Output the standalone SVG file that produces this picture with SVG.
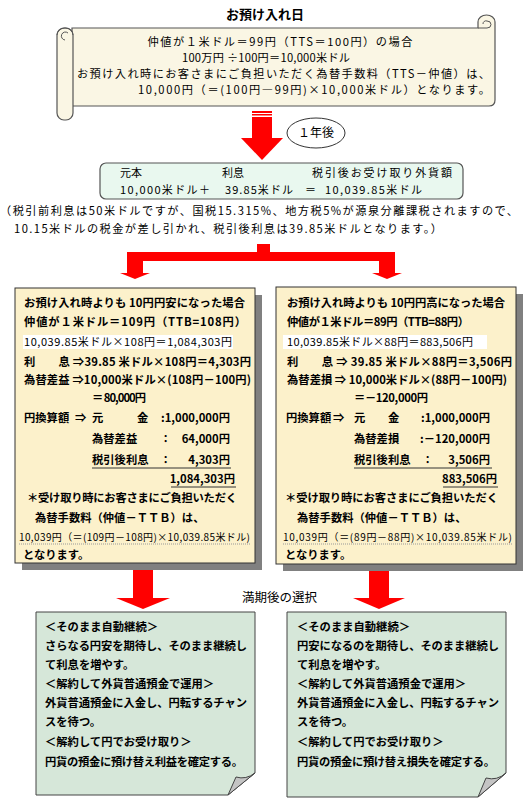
<svg xmlns="http://www.w3.org/2000/svg" width="530" height="803" viewBox="0 0 530 803">
<style>
text{font-family:"Noto Sans CJK JP","Noto Sans",sans-serif;fill:#000}
.r{font-size:12px}
.s{font-size:11.2px}
.b{font-size:11.3px;font-weight:bold}
.n{font-size:11px}
.sm{font-size:10px}
.title{font-size:13px;font-weight:bold}
.red{fill:#FF0000}
.ul{stroke:#333;stroke-width:1}
</style>
<rect width="530" height="803" fill="#fff"/>
<text class="title" x="265" y="19" text-anchor="middle">お預け入れ日</text>

<g id="scroll">
<path d="M72,28 H478 V22 A8.5,7 0 0 1 495,22 V100 Q495,106 489,106 H72 Z" fill="#FAF6E4" stroke="#555" stroke-width="1.2"/>
<path d="M478,28 H487 A4,3.5 0 0 0 487,21 A3,3 0 0 0 483,24" fill="none" stroke="#555" stroke-width="1"/>
<rect x="57" y="28" width="16" height="92" rx="7" fill="#FAF6E4" stroke="#555" stroke-width="1.2"/>
<path d="M57,35 A8,7 0 0 1 73,35 M65,40 A4,4 0 1 1 68,33" fill="none" stroke="#555" stroke-width="1"/>
<text class="s" x="280" y="46" text-anchor="middle" textLength="265">仲値が１米ドル＝99円（TTS＝100円）の場合</text>
<text class="s" x="266" y="62" text-anchor="middle" textLength="168">100万円 ÷100円＝10,000米ドル</text>
<text class="s" x="77" y="78" textLength="413">お預け入れ時にお客さまにご負担いただく為替手数料（TTS－仲値）は、</text>
<text class="s" x="138" y="94" textLength="352">10,000円（＝(100円―99円)×10,000米ドル）となります。</text>
</g>

<g id="connectors">
<rect class="red" x="252" y="111" width="20" height="2"/>
<rect class="red" x="252" y="114" width="20" height="1.5"/>
<rect class="red" x="252" y="117" width="20" height="22"/>
<polygon class="red" points="241,138 283,138 262,160"/>
<rect class="red" x="257" y="244" width="13" height="10"/>
<rect class="red" x="127" y="252" width="268" height="9"/>
<rect class="red" x="127" y="252" width="16" height="21"/>
<polygon class="red" points="120,273 150,273 135,279"/>
<rect class="red" x="379" y="252" width="16" height="21"/>
<polygon class="red" points="372,273 402,273 387,279"/>
<rect class="red" x="133" y="570" width="20" height="29"/>
<polygon class="red" points="116,598 170,598 143,609"/>
<rect class="red" x="369" y="570" width="20" height="29"/>
<polygon class="red" points="353,598 405,598 379,609"/>
</g>

<g id="oneyear">
<ellipse cx="316" cy="133" rx="29" ry="15" fill="#fff" stroke="#333" stroke-width="1"/>
<text class="r" x="316" y="137" text-anchor="middle">１年後</text>
</g>

<g id="after">
<rect x="100" y="163" width="363" height="36" rx="6" fill="#E9F8EF" stroke="#555" stroke-width="1.2"/>
<text class="n" x="120" y="177">元本</text>
<text class="n" x="222" y="177">利息</text>
<text class="n" x="312" y="177" textLength="140">税引後お受け取り外貨額</text>
<text class="n" x="120" y="194" textLength="90">10,000米ドル＋</text>
<text class="n" x="225" y="194" textLength="68">39.85米ドル</text>
<text class="n" x="305" y="194">＝</text>
<text class="n" x="325" y="194" textLength="97">10,039.85米ドル</text>
</g>

<g id="note">
<text class="s" x="0" y="215" textLength="518">（税引前利息は50米ドルですが、国税15.315%、地方税5%が源泉分離課税されますので、</text>
<text class="s" x="14" y="233" textLength="428">10.15米ドルの税金が差し引かれ、税引後利息は39.85米ドルとなります。）</text>
</g>

<g id="left-case">
<rect x="22" y="295" width="240" height="275" fill="#808080"/>
<rect x="15" y="288" width="240" height="275" fill="#FCF1CB" stroke="#333" stroke-width="1"/>
<text class="b" x="24" y="307" textLength="221">お預け入れ時よりも 10円円安になった場合</text>
<text class="b" x="24" y="326" textLength="222">仲値が１米ドル＝109円（TTB=108円）</text>
<rect x="23" y="335" width="210" height="14" fill="#fff"/>
<text class="n" x="24" y="346" textLength="208">10,039.85米ドル×108円＝1,084,303円</text>
<text class="b" x="24" y="366" textLength="227">利　　息 ⇒39.85  米ドル×108円＝4,303円</text>
<text class="b" x="24" y="384" textLength="227">為替差益 ⇒10,000米ドル×(108円－100円)</text>
<text class="b" x="92" y="402" textLength="54">＝ 80,000円</text>
<text class="b" x="24" y="422">円換算額</text>
<text class="b" x="75" y="422">⇒</text>
<text class="b" x="92" y="422">元</text>
<text class="b" x="137" y="422">金</text>
<text class="b" x="230" y="422" text-anchor="end">:1,000,000円</text>
<text class="b" x="92" y="443">為替差益</text>
<text class="b" x="160" y="443">：</text>
<text class="b" x="230" y="443" text-anchor="end">64,000円</text>
<text class="b" x="92" y="464">税引後利息</text>
<text class="b" x="160" y="464">：</text>
<text class="b" x="230" y="464" text-anchor="end">4,303円</text>
<line class="ul" x1="92" y1="468" x2="231" y2="468"/>
<text class="b" x="235" y="483" text-anchor="end">1,084,303円</text>
<line class="ul" x1="171" y1="487" x2="236" y2="487"/>
<text class="b" x="27" y="502" textLength="210">＊受け取り時にお客さまにご負担いただく</text>
<text class="b" x="35" y="522">為替手数料（仲値－ＴＴＢ）は、</text>
<text class="sm" x="19" y="541" textLength="231">10,039円（＝(109円－108円)×10,039.85米ドル)</text>
<line x1="19" y1="544" x2="250" y2="544" stroke="#999" stroke-width="1" stroke-dasharray="1,1"/>
<text class="b" x="23" y="559">となります。</text>
</g>

<g id="right-case">
<rect x="283" y="294" width="240" height="277" fill="#808080"/>
<rect x="276" y="287" width="240" height="277" fill="#FCF1CB" stroke="#333" stroke-width="1"/>
<text class="b" x="287" y="307" textLength="218">お預け入れ時よりも 10円円高になった場合</text>
<text class="b" x="287" y="326" textLength="182">仲値が１米ドル＝89円（TTB=88円）</text>
<rect x="283" y="335" width="204" height="14" fill="#fff"/>
<text class="n" x="287" y="346" textLength="186">10,039.85米ドル×88円＝883,506円</text>
<text class="b" x="287" y="366" textLength="225">利　　息 ⇒ 39.85  米ドル×88円＝3,506円</text>
<text class="b" x="287" y="384" textLength="220">為替差損 ⇒ 10,000米ドル×(88円－100円)</text>
<text class="b" x="354" y="402" textLength="74">＝－120,000円</text>
<text class="b" x="286" y="422">円換算額</text>
<text class="b" x="333" y="422">⇒</text>
<text class="b" x="354" y="422">元</text>
<text class="b" x="388" y="422">金</text>
<text class="b" x="490" y="422" text-anchor="end">:1,000,000円</text>
<text class="b" x="354" y="443">為替差損</text>
<text class="b" x="490" y="443" text-anchor="end">:－120,000円</text>
<text class="b" x="354" y="464">税引後利息</text>
<text class="b" x="422" y="464">：</text>
<text class="b" x="490" y="464" text-anchor="end">3,506円</text>
<line class="ul" x1="354" y1="468" x2="492" y2="468"/>
<text class="b" x="497" y="483" text-anchor="end">883,506円</text>
<line class="ul" x1="443" y1="487" x2="498" y2="487"/>
<text class="b" x="285" y="502" textLength="213">＊受け取り時にお客さまにご負担いただく</text>
<text class="b" x="297" y="522">為替手数料（仲値－ＴＴＢ）は、</text>
<text class="sm" x="283" y="541" textLength="229">10,039円（＝(89円－88円)×10,039.85米ドル)</text>
<line x1="283" y1="544" x2="512" y2="544" stroke="#999" stroke-width="1" stroke-dasharray="1,1"/>
<text class="b" x="285" y="559">となります。</text>
</g>

<text class="r" x="242" y="602" style="font-size:12.5px">満期後の選択</text>

<g id="left-choice">
<path d="M36,612 H255 V773 L228,795 H36 Z" fill="#D6E7D9" stroke="#444" stroke-width="1"/>
<path d="M228,795 L236,777 Q246,780 255,773 Z" fill="#C4C4C4" stroke="#444" stroke-width="1"/>
<text class="b" x="45" y="631">＜そのまま自動継続＞</text>
<text class="b" x="45" y="650" textLength="202">さらなる円安を期待し、そのまま継続し</text>
<text class="b" x="45" y="669">て利息を増やす。</text>
<text class="b" x="45" y="688">＜解約して外貨普通預金で運用＞</text>
<text class="b" x="45" y="707" textLength="202">外貨普通預金に入金し、円転するチャン</text>
<text class="b" x="45" y="726">スを待つ。</text>
<text class="b" x="45" y="746">＜解約して円でお受け取り＞</text>
<text class="b" x="45" y="766" textLength="198">円貨の預金に預け替え利益を確定する。</text>
</g>

<g id="right-choice">
<path d="M287,612 H506 V773 L478,797 H287 Z" fill="#D6E7D9" stroke="#444" stroke-width="1"/>
<path d="M478,797 L486,778 Q497,781 506,773 Z" fill="#C4C4C4" stroke="#444" stroke-width="1"/>
<text class="b" x="297" y="631">＜そのまま自動継続＞</text>
<text class="b" x="297" y="650" textLength="202">円安になるのを期待し、そのまま継続し</text>
<text class="b" x="297" y="669">て利息を増やす。</text>
<text class="b" x="297" y="688">＜解約して外貨普通預金で運用＞</text>
<text class="b" x="297" y="707" textLength="202">外貨普通預金に入金し、円転するチャン</text>
<text class="b" x="297" y="726">スを待つ。</text>
<text class="b" x="297" y="746">＜解約して円でお受け取り＞</text>
<text class="b" x="297" y="766" textLength="198">円貨の預金に預け替え損失を確定する。</text>
</g>
</svg>
